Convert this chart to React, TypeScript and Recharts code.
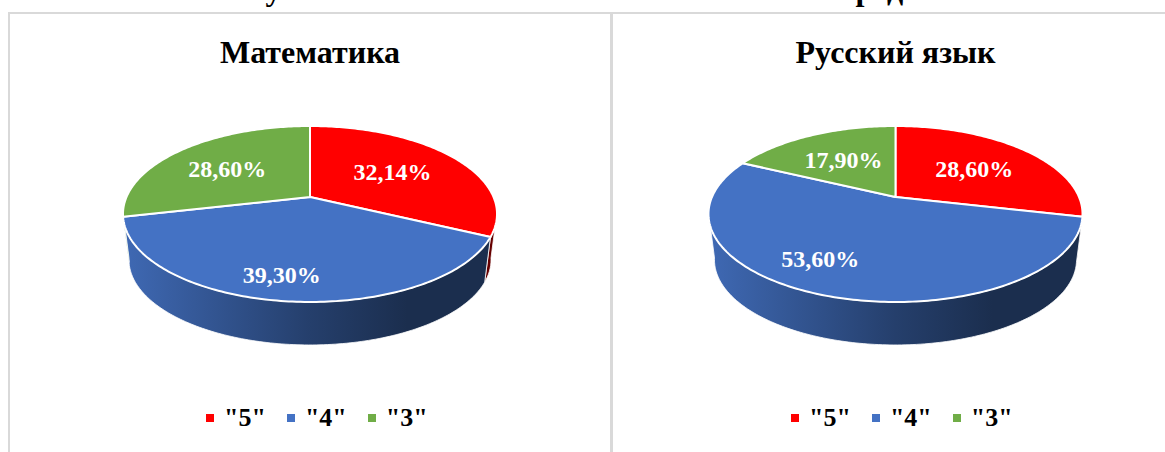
import { PieChart, Pie, Legend } from 'recharts';

const grades = ['"5"', '"4"', '"3"'];
const gradeColors = ['#FF0000', '#4472C4', '#70AD47'];
const mathValues = [32.14, 39.3, 28.6];
const russianValues = [28.6, 53.6, 17.9];

// 3D look: a circle seen in perspective (the apex sits above the ellipse centre)
const RX = 183.5;
const RY = 88;
const APEX = -17;
const TILT = -0.193;
const WALL_DROP = 45.8;
const WALL_SCALE = 0.968;
const WALL_FROM = 100;
const WALL_TO = 260;

const serif = '"Liberation Serif", serif';

function project(theta: number, r = 1) {
    const t = (theta * Math.PI) / 180;
    const u = Math.sin(t) * r;
    const v = -Math.cos(t) * r;
    const den = 1 + TILT * v;
    return { x: (RX * u) / den, y: (RY * v + APEX) / den };
}

function arcPoints(from: number, to: number) {
    const steps = Math.max(2, Math.ceil(Math.abs(to - from)));
    const pts = [];
    for (let i = 0; i <= steps; i++) pts.push(from + ((to - from) * i) / steps);
    return pts;
}

function TopSlice(props: any) {
    const { cx, cy, startAngle, endAngle, fill } = props;
    const pts = arcPoints(90 - startAngle, 90 - endAngle).map(a => project(a));
    const apex = project(0, 0);
    const d =
        `M${cx + apex.x},${cy + apex.y} ` +
        pts.map(p => `L${cx + p.x},${cy + p.y}`).join(' ') +
        ' Z';
    return <path d={d} fill={fill} stroke="#fff" strokeWidth={2} strokeLinejoin="round" />;
}

function shade(hex: string, k: number) {
    const n = parseInt(hex.slice(1), 16);
    const c = [(n >> 16) & 255, (n >> 8) & 255, n & 255].map(v => Math.round(v * k));
    return `rgb(${c.join(',')})`;
}

function WallSlice(props: any) {
    const { cx, cy, startAngle, endAngle, fill, chartId } = props;
    const from = Math.max(90 - startAngle, WALL_FROM);
    const to = Math.min(90 - endAngle, WALL_TO);
    if (to <= from) return null;
    const pts = arcPoints(from, to).map(a => project(a));
    const top = pts.map(p => `${cx + p.x},${cy + p.y}`);
    const bottom = pts
        .map(p => `${cx + p.x * WALL_SCALE},${cy + p.y * WALL_SCALE + WALL_DROP}`)
        .reverse();
    const id = `wall-${chartId}-${fill.slice(1)}`;
    return (
        <g>
            <defs>
                <linearGradient id={id} gradientUnits="userSpaceOnUse" x1={cx - 187} x2={cx + 187} y1={0} y2={0}>
                    <stop offset="0" stopColor={shade(fill, 0.92)} />
                    <stop offset="0.5" stopColor={shade(fill, 0.55)} />
                    <stop offset="0.76" stopColor={shade(fill, 0.4)} />
                    <stop offset="1" stopColor={shade(fill, 0.4)} />
                </linearGradient>
            </defs>
            <path d={`M${top.join(' L')} L${bottom.join(' L')} Z`} fill={`url(#${id})`} stroke="#fff" strokeWidth={0.8} />
        </g>
    );
}

function sliceLabel(props: any, nudges: number[][]) {
    const { cx, cy, midAngle, value, index } = props;
    const p = project(90 - midAngle, 0.62);
    const [dx, dy] = nudges[index];
    return (
        <text
            x={cx + p.x + dx}
            y={cy + p.y + dy}
            fill="#fff"
            fontFamily={serif}
            fontWeight="bold"
            fontSize={24}
            textAnchor="middle"
            dominantBaseline="central"
        >
            {value.toFixed(2).replace('.', ',')}%
        </text>
    );
}

function LegendRow({ payload }: any) {
    const items = (payload ?? []).filter((e: any) => e.type !== 'none');
    return (
        <div style={{ display: 'flex', gap: 21, fontFamily: serif, fontWeight: 'bold', fontSize: 26, color: '#000' }}>
            {items.map((e: any) => (
                <div key={e.value} style={{ display: 'flex', alignItems: 'center', gap: 10, height: 30 }}>
                    <span style={{ width: 8, height: 8, background: e.color, display: 'block' }} />
                    <span>{e.value}</span>
                </div>
            ))}
        </div>
    );
}

interface PanelProps {
    id: string;
    title: string;
    values: number[];
    left: number;
    width: number;
    centerX: number;
    legendX: number;
    nudges: number[][];
}

function Panel({ id, title, values, left, width, centerX, legendX, nudges }: PanelProps) {
    const data = grades.map((name, i) => ({ name, value: values[i], fill: gradeColors[i] }));
    return (
        <div style={{ position: 'absolute', left, top: 0, width, height: 452 }}>
            <PieChart width={width} height={452} margin={{ top: 0, right: 0, bottom: 0, left: 0 }}>
                <Pie
                    data={data}
                    dataKey="value"
                    nameKey="name"
                    cx={centerX}
                    cy={214}
                    outerRadius={187}
                    startAngle={90}
                    endAngle={-270}
                    legendType="none"
                    isAnimationActive={false}
                    shape={(p: any) => <WallSlice {...p} chartId={id} />}
                />
                <Pie
                    data={data}
                    dataKey="value"
                    nameKey="name"
                    cx={centerX}
                    cy={214}
                    outerRadius={187}
                    startAngle={90}
                    endAngle={-270}
                    isAnimationActive={false}
                    labelLine={false}
                    label={(p: any) => sliceLabel(p, nudges)}
                    shape={TopSlice}
                />
                <Legend content={LegendRow} itemSorter={null} wrapperStyle={{ left: legendX, top: 403, width: 'auto' }} />
            </PieChart>
            <div
                style={{
                    position: 'absolute',
                    left: 0,
                    width: centerX * 2,
                    top: 34,
                    textAlign: 'center',
                    fontFamily: serif,
                    fontWeight: 'bold',
                    fontSize: 32,
                    color: '#000',
                }}
            >
                {title}
            </div>
        </div>
    );
}

export default function App() {
    return (
        <div style={{ position: 'absolute', left: 0, top: 0, width: 1165, height: 452, overflow: 'hidden', background: '#fff' }}>
            <div
                style={{
                    position: 'absolute',
                    left: 0,
                    width: 1213,
                    top: -29,
                    textAlign: 'center',
                    fontFamily: serif,
                    fontWeight: 'bold',
                    fontSize: 32,
                    lineHeight: '36px',
                    wordSpacing: 3,
                    color: '#000',
                    whiteSpace: 'nowrap',
                }}
            >
                Результаты ОГЭ по обоим обязательным предметам
            </div>
            <div style={{ position: 'absolute', left: 8, top: 12, width: 1157, height: 2, background: '#d9d9d9' }} />
            <div style={{ position: 'absolute', left: 8, top: 12, width: 2, height: 440, background: '#d9d9d9' }} />
            <div style={{ position: 'absolute', left: 610, top: 12, width: 3, height: 440, background: '#d9d9d9' }} />
            <Panel
                id="math"
                title="Математика"
                values={mathValues}
                left={10}
                width={600}
                centerX={300}
                legendX={196}
                nudges={[[-8, 1], [-14, 19], [0, 2]]}
            />
            <Panel
                id="rus"
                title="Русский язык"
                values={russianValues}
                left={613}
                width={552}
                centerX={282.5}
                legendX={178}
                nudges={[[-4, 2], [-33, 6], [3, 3]]}
            />
        </div>
    );
}
